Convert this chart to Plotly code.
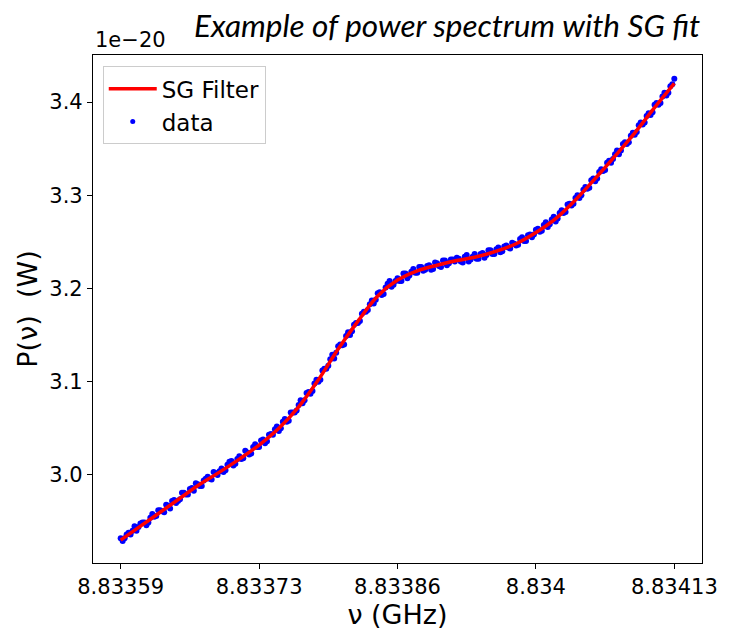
import numpy as np
import plotly.graph_objects as go

# frequency grid (GHz)
f_start, f_stop = 8.83359, 8.83413
n_data, n_fit = 281, 29

# measured power (units of 1e-20 W)
data_p = [
    2.932, 2.929, 2.932, 2.936, 2.938, 2.936, 2.940, 2.945, 2.940, 2.944,
    2.948, 2.949, 2.949, 2.946, 2.949, 2.954, 2.958, 2.955, 2.956, 2.962,
    2.962, 2.961, 2.960, 2.968, 2.967, 2.964, 2.972, 2.973, 2.970, 2.972,
    2.974, 2.981, 2.981, 2.979, 2.979, 2.985, 2.986, 2.983, 2.991, 2.990,
    2.988, 2.988, 2.994, 2.996, 2.998, 2.996, 2.995, 3.003, 3.002, 3.000,
    3.004, 3.007, 3.003, 3.005, 3.011, 3.014, 3.015, 3.010, 3.012, 3.017,
    3.020, 3.017, 3.018, 3.026, 3.024, 3.022, 3.023, 3.030, 3.033, 3.030,
    3.030, 3.037, 3.038, 3.034, 3.036, 3.043, 3.044, 3.043, 3.049, 3.052,
    3.047, 3.050, 3.057, 3.060, 3.057, 3.058, 3.067, 3.067, 3.067, 3.069,
    3.075, 3.080, 3.077, 3.080, 3.088, 3.089, 3.087, 3.090, 3.098, 3.102,
    3.100, 3.102, 3.112, 3.114, 3.114, 3.117, 3.124, 3.129, 3.125, 3.131,
    3.138, 3.140, 3.139, 3.140, 3.149, 3.153, 3.150, 3.154, 3.161, 3.163,
    3.163, 3.165, 3.173, 3.175, 3.175, 3.177, 3.183, 3.187, 3.184, 3.188,
    3.195, 3.196, 3.193, 3.194, 3.201, 3.205, 3.208, 3.202, 3.204, 3.208,
    3.211, 3.208, 3.208, 3.216, 3.216, 3.211, 3.214, 3.218, 3.221, 3.217,
    3.217, 3.223, 3.223, 3.219, 3.220, 3.224, 3.225, 3.220, 3.221, 3.228,
    3.227, 3.224, 3.223, 3.230, 3.230, 3.225, 3.227, 3.231, 3.231, 3.229,
    3.233, 3.232, 3.229, 3.228, 3.234, 3.236, 3.229, 3.231, 3.234, 3.237,
    3.232, 3.232, 3.237, 3.238, 3.233, 3.236, 3.241, 3.241, 3.237, 3.237,
    3.242, 3.244, 3.239, 3.240, 3.245, 3.246, 3.244, 3.243, 3.249, 3.248,
    3.246, 3.247, 3.253, 3.255, 3.251, 3.251, 3.257, 3.258, 3.255, 3.258,
    3.263, 3.264, 3.261, 3.262, 3.268, 3.271, 3.266, 3.269, 3.274, 3.277,
    3.272, 3.275, 3.281, 3.284, 3.281, 3.282, 3.290, 3.291, 3.289, 3.291,
    3.297, 3.300, 3.297, 3.300, 3.306, 3.309, 3.307, 3.308, 3.316, 3.318,
    3.315, 3.318, 3.325, 3.328, 3.326, 3.327, 3.335, 3.337, 3.335, 3.339,
    3.344, 3.348, 3.344, 3.348, 3.355, 3.357, 3.355, 3.357, 3.364, 3.367,
    3.365, 3.368, 3.375, 3.378, 3.376, 3.378, 3.385, 3.388, 3.386, 3.389,
    3.397, 3.399, 3.397, 3.399, 3.406, 3.410, 3.407, 3.410, 3.417, 3.419,
    3.425,
]

# Savitzky-Golay filtered curve (units of 1e-20 W)
fit_p = [
    2.930, 2.945, 2.960, 2.975, 2.990, 3.003, 3.017, 3.032, 3.050, 3.073,
    3.102, 3.135, 3.165, 3.192, 3.209, 3.219, 3.225, 3.230, 3.234, 3.240,
    3.248, 3.260, 3.275, 3.295, 3.318, 3.342, 3.367, 3.394, 3.420,
]

x_tick_labels = ["8.83359", "8.83373", "8.83386", "8.834", "8.83413"]
y_tick_vals = [3.0, 3.1, 3.2, 3.3, 3.4]
y_tick_labels = ["3.0", "3.1", "3.2", "3.3", "3.4"]

data_f = np.linspace(f_start, f_stop, n_data)
fit_f = np.linspace(f_start, f_stop, n_fit)
x_tick_vals = np.linspace(f_start, f_stop, 5)

span = f_stop - f_start
x_range = [f_start - 0.05 * span, f_stop + 0.05 * span]
y_range = [2.9055, 3.4505]

FONT = "DejaVu Sans"

fig = go.Figure()
fig.add_trace(go.Scatter(
    x=data_f, y=data_p, mode="markers", name="data", showlegend=False,
    marker=dict(color="#0000ff", size=6, line=dict(width=0)),
))
fig.add_trace(go.Scatter(
    x=fit_f, y=fit_p, mode="lines", name="SG Filter", legendrank=1,
    line=dict(color="#ff0000", width=3.5, shape="spline"),
))
# legend entry for data with a small marker (as in the reference legend)
fig.add_trace(go.Scatter(
    x=[None], y=[None], mode="markers", name="data", legendrank=2,
    marker=dict(color="#0000ff", size=5, line=dict(width=0)),
))

axis_common = dict(
    showline=True, linecolor="black", linewidth=1.2, mirror=True,
    ticks="outside", ticklen=5, tickwidth=1.2, tickcolor="black",
    showgrid=False, zeroline=False,
    tickfont=dict(family=FONT, size=21, color="black"),
)

fig.update_layout(
    width=730, height=630,
    margin=dict(l=93, r=23, t=55, b=65),
    paper_bgcolor="white", plot_bgcolor="white",
    showlegend=True,
    legend=dict(
        x=0.016, y=0.978, xanchor="left", yanchor="top",
        bgcolor="white", bordercolor="#cccccc", borderwidth=1,
        font=dict(family=FONT, size=23, color="black"),
        traceorder="normal", itemwidth=48,
    ),
    xaxis=dict(
        range=x_range, tickvals=x_tick_vals, ticktext=x_tick_labels,
        title=dict(text="ν (GHz)", font=dict(family=FONT, size=27, color="black"), standoff=0),
        **axis_common,
    ),
    yaxis=dict(
        range=y_range, tickvals=y_tick_vals, ticktext=y_tick_labels,
        title=dict(text="P(ν)  (W)", font=dict(family=FONT, size=27, color="black"), standoff=3),
        **axis_common,
    ),
    annotations=[
        dict(text="1e\u221220", xref="paper", yref="paper", x=0, y=1.0,
             xanchor="left", yanchor="bottom", yshift=1, showarrow=False,
             font=dict(family=FONT, size=21, color="black")),
        dict(text="<i>Example of power spectrum with SG fit</i>", xref="paper", yref="paper",
             x=1.0, y=1.0588, xanchor="right", yanchor="middle", showarrow=False,
             font=dict(family="Lato", size=31.5, color="black")),
    ],
)

fig.write_html("out.html")
